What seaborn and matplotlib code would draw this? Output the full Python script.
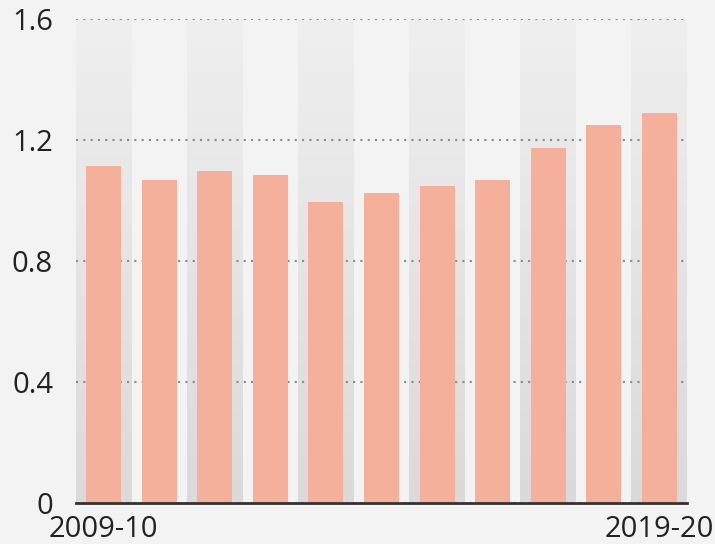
import matplotlib
matplotlib.use("Agg")
import matplotlib.pyplot as plt
from matplotlib.colors import LinearSegmentedColormap
import numpy as np
import pandas as pd
import seaborn as sns

# ---- data ----
years = ["2009-10", "2010-11", "2011-12", "2012-13", "2013-14", "2014-15",
         "2015-16", "2016-17", "2017-18", "2018-19", "2019-20"]
values = [1.113, 1.066, 1.098, 1.084, 0.994, 1.023, 1.046, 1.068, 1.171, 1.248, 1.287]
ytick_values = [0, 0.4, 0.8, 1.2, 1.6]
ytick_labels = ["0", "0.4", "0.8", "1.2", "1.6"]
xtick_shown = [years[0], years[-1]]

df = pd.DataFrame({"year": years, "value": values})

sns.set_theme(style="white")
plt.rcParams["font.family"] = ["Open Sans", "DejaVu Sans"]

BG = "#f3f3f3"
BAR = "#f4b09a"
TXT = "#222222"

fig = plt.figure(figsize=(7.15, 5.44), dpi=100, facecolor=BG)
ax = fig.add_axes([76 / 715, 41 / 544, 611 / 715, (503 - 18.5) / 544])
ax.set_facecolor(BG)

# alternating soft stripes behind every other category
stripe_cmap = LinearSegmentedColormap.from_list("stripe", ["#efefef", "#dadada"])
grad = np.linspace(0, 1, 256).reshape(-1, 1)
for i in range(0, len(years), 2):
    ax.imshow(grad, extent=(i - 0.5, i + 0.5, 0, 1.6), cmap=stripe_cmap,
              aspect="auto", origin="upper", zorder=0, interpolation="bilinear")

sns.barplot(data=df, x="year", y="value", order=years, color=BAR,
            saturation=1, width=0.63, ax=ax, zorder=3, linewidth=0,
            edgecolor="none")

ax.set_xlim(-0.5, len(years) - 0.5)
ax.set_ylim(0, 1.6)

ax.set_yticks(ytick_values)
ax.set_yticklabels(ytick_labels, fontsize=21, color=TXT)
ax.set_xticks([0, len(years) - 1])
ax.set_xticklabels(xtick_shown, fontsize=21, color=TXT)
ax.tick_params(axis="y", length=0, pad=16.5)
ax.tick_params(axis="x", length=0, pad=8.5)

ax.set_axisbelow(True)
ax.yaxis.grid(True, linestyle=(0, (1, 2.5)), color="#8a8a8a", linewidth=1.5)
ax.xaxis.grid(False)

for s in ["left", "right", "top"]:
    ax.spines[s].set_visible(False)
ax.spines["bottom"].set_color("#333333")
ax.spines["bottom"].set_linewidth(2)
ax.spines["bottom"].set_zorder(5)

ax.set_xlabel("")
ax.set_ylabel("")

fig.savefig("out.png", dpi=100, facecolor=fig.get_facecolor())
